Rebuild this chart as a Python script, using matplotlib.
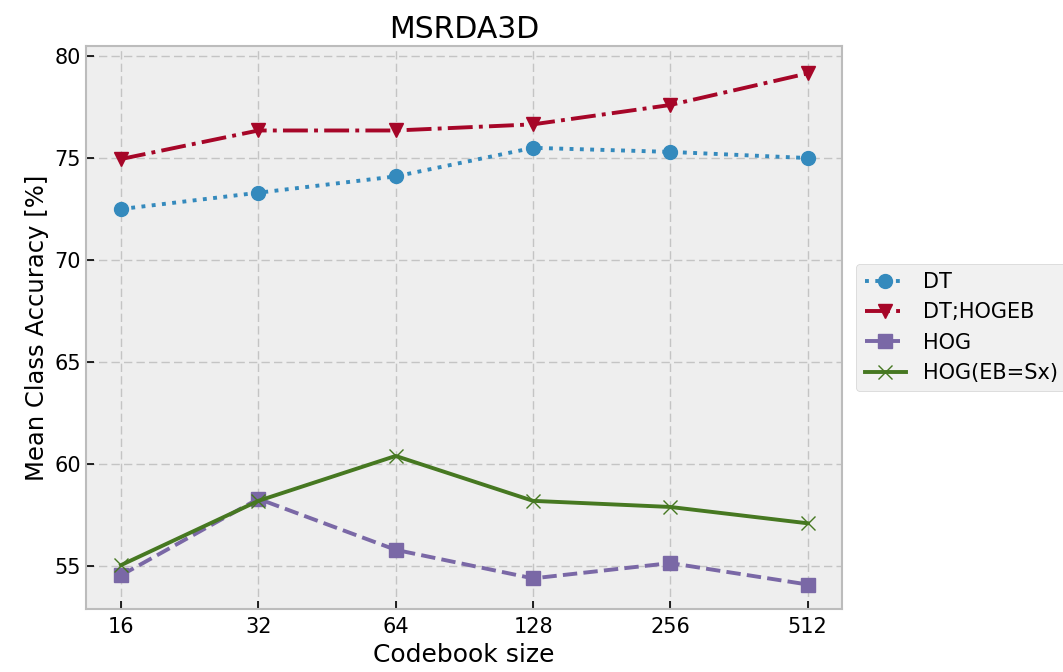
import matplotlib
matplotlib.use("Agg")
import matplotlib.pyplot as plt

plt.style.use("bmh")
plt.rcParams["font.family"] = ["DejaVu Sans"]

codebook = [16, 32, 64, 128, 256, 512]
dt = [72.5, 73.3, 74.1, 75.5, 75.3, 75.0]
dt_hogeb = [74.95, 76.35, 76.35, 76.65, 77.6, 79.15]
hog = [54.55, 58.3, 55.8, 54.4, 55.15, 54.1]
hog_eb = [55.05, 58.2, 60.4, 58.2, 57.9, 57.1]

fig = plt.figure(figsize=(10.63, 6.72), dpi=100)
ax = fig.add_axes([86/1063, 1-609/672, (842-86)/1063, (609-46)/672])

kw = dict(lw=2.8, ms=10)
ax.plot(codebook, dt, linestyle=":", marker="o", color="#348ABD", label="DT", **kw)
ax.plot(codebook, dt_hogeb, linestyle="-.", marker="v", color="#A60628", label="DT;HOGEB", **kw)
ax.plot(codebook, hog, linestyle="--", marker="s", color="#7A68A6", label="HOG", **kw)
ax.plot(codebook, hog_eb, linestyle="-", marker="x", color="#467821", label="HOG(EB=Sx)", **kw)

ax.set_xscale("log", base=2)
ax.set_xticks(codebook)
ax.set_xticklabels([str(c) for c in codebook])
ax.minorticks_off()
ax.set_xlim(16 * 2 ** -0.255, 512 * 2 ** 0.25)
ax.set_ylim(52.9, 80.49)
ax.set_yticks([55, 60, 65, 70, 75, 80])
ax.grid(True, linestyle=(0, (6, 3)), color="#c4c4c4", lw=1.0)
ax.tick_params(labelsize=15, direction="in", length=6, width=1.2, color="black",
               top=False, right=False)
ax.tick_params(axis="x", pad=6)
for s in ax.spines.values():
    s.set_color("#bcbcbc")
    s.set_linewidth(1.5)

ax.set_title("MSRDA3D", fontsize=21.5)
ax.set_xlabel("Codebook size", fontsize=18, labelpad=4)
ax.set_ylabel("Mean Class Accuracy [%]", fontsize=17.5, labelpad=4)
leg = ax.legend(loc="center left", bbox_to_anchor=(1.005, 0.5), fontsize=15)
leg.get_frame().set_edgecolor("#c8c8c8")

fig.savefig("out.png", dpi=100)
